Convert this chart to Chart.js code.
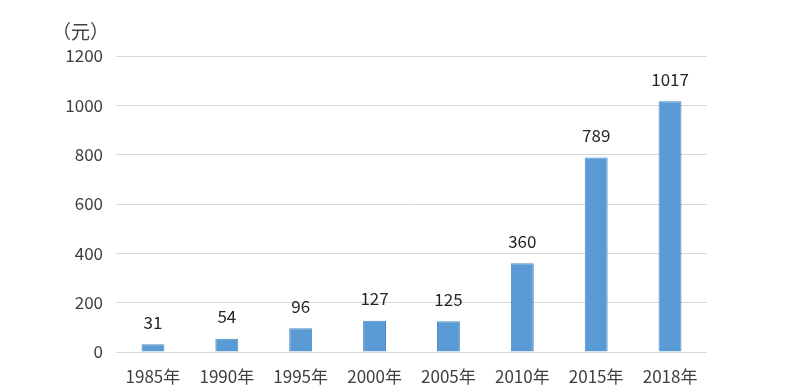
<!DOCTYPE html>
<html>
<head>
<meta charset="utf-8">
<script src="https://cdn.jsdelivr.net/npm/chart.js@4"></script>
<style>
  body { margin: 0; background: #fff; }
  #wrap { width: 800px; height: 392px; }
</style>
</head>
<body>
<div id="wrap"><canvas id="myChart" width="800" height="392"></canvas></div>
<script>
var years = ['1985年', '1990年', '1995年', '2000年', '2005年', '2010年', '2015年', '2018年'];
var values = [31, 54, 96, 127, 125, 360, 789, 1017];
var yTicks = [0, 200, 400, 600, 800, 1000, 1200];
var unitLabel = '（元）';

var fontFamily = '"Noto Sans CJK SC", "Noto Sans", sans-serif';

// value labels above each bar and the unit at top left
var labelPlugin = {
    id: 'labels',
    afterDatasetsDraw: function (chart) {
        var ctx = chart.ctx;
        var meta = chart.getDatasetMeta(0);
        ctx.save();
        ctx.fillStyle = '#262626';
        ctx.font = '17px ' + fontFamily;
        ctx.textAlign = 'center';
        ctx.textBaseline = 'middle';
        meta.data.forEach(function (bar, i) {
            ctx.fillText(values[i], bar.x, bar.y - 22);
        });
        ctx.textAlign = 'left';
        ctx.fillStyle = '#404040';
        ctx.font = '19px ' + fontFamily;
        ctx.fillText(unitLabel, 52, 32);
        ctx.restore();
    }
};

var ctx = document.getElementById('myChart').getContext('2d');
var myChart = new Chart(ctx, {
    type: 'bar',
    data: {
        labels: years,
        datasets: [{
            data: values,
            backgroundColor: '#5B9BD5',
            borderColor: '#4E8BC4',
            borderWidth: 1,
            barPercentage: 0.31,
            categoryPercentage: 1
        }]
    },
    options: {
        responsive: false,
        animation: false,
        layout: { padding: { top: 56, right: 93, left: 0, bottom: 0 } },
        plugins: {
            legend: { display: false },
            tooltip: { enabled: false }
        },
        scales: {
            x: {
                grid: { display: false },
                border: { display: false },
                ticks: { color: '#404040', font: { size: 17, family: fontFamily }, padding: 6, maxRotation: 0 },
                afterFit: function (scale) { scale.height = 40; }
            },
            y: {
                min: 0,
                max: 1200,
                afterBuildTicks: function (scale) {
                    scale.ticks = yTicks.map(function (v) { return { value: v }; });
                },
                grid: { color: '#D9D9D9', lineWidth: 1, drawTicks: false },
                border: { display: false },
                ticks: {
                    color: '#404040',
                    font: { size: 17, family: fontFamily },
                    padding: 13,
                    callback: function (v) { return String(v); }
                },
                afterFit: function (scale) { scale.width = 116; }
            }
        }
    },
    plugins: [labelPlugin]
});
</script>
</body>
</html>
